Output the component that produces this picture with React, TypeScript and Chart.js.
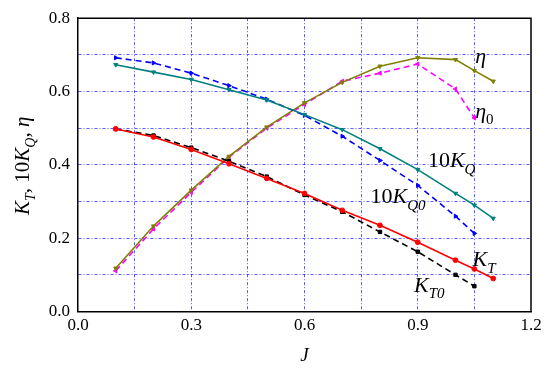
import React, { useEffect, useRef } from "react";
import { Chart, registerables } from "chart.js";

Chart.register(...registerables);

const J_SOLID = [0.1, 0.2, 0.3, 0.4, 0.5, 0.6, 0.7, 0.8, 0.9, 1.0, 1.05, 1.1];
const J_DASHED = [0.1, 0.2, 0.3, 0.4, 0.5, 0.6, 0.7, 0.8, 0.9, 1.0, 1.05];

const KT = [0.498, 0.476, 0.442, 0.403, 0.363, 0.322, 0.276, 0.235, 0.189, 0.14, 0.116, 0.09];
const KT0 = [0.498, 0.48, 0.447, 0.41, 0.368, 0.318, 0.272, 0.217, 0.163, 0.1, 0.069];
const KQ10 = [0.673, 0.653, 0.633, 0.605, 0.577, 0.537, 0.496, 0.444, 0.387, 0.322, 0.29, 0.254];
const KQ010 = [0.692, 0.678, 0.65, 0.616, 0.579, 0.535, 0.478, 0.412, 0.344, 0.26, 0.213];
const ETA = [0.118, 0.233, 0.331, 0.423, 0.503, 0.569, 0.625, 0.669, 0.692, 0.687, 0.657, 0.628];
const ETA0 = [0.111, 0.225, 0.325, 0.421, 0.5, 0.565, 0.628, 0.65, 0.675, 0.607, 0.528];

const X_MAJOR = [0.0, 0.3, 0.6, 0.9, 1.2];
const Y_MAJOR = [0.0, 0.2, 0.4, 0.6, 0.8];

const SERIF = "Liberation Serif";
Chart.defaults.font.family = SERIF;

type Part = { t: string; sub?: boolean; italic?: boolean };

const CURVE_LABELS: { x: number; y: number; parts: Part[] }[] = [
  { x: 1.052, y: 0.679, parts: [{ t: "η", italic: true }] },
  { x: 1.052, y: 0.529, parts: [{ t: "η", italic: true }, { t: "0", sub: true }] },
  { x: 0.927, y: 0.394, parts: [{ t: "10" }, { t: "K", italic: true }, { t: "Q", sub: true, italic: true }] },
  { x: 0.775, y: 0.296, parts: [{ t: "10" }, { t: "K", italic: true }, { t: "Q0", sub: true, italic: true }] },
  { x: 1.045, y: 0.124, parts: [{ t: "K", italic: true }, { t: "T", sub: true, italic: true }] },
  { x: 0.89, y: 0.054, parts: [{ t: "K", italic: true }, { t: "T0", sub: true, italic: true }] },
];

const Y_TITLE: Part[] = [
  { t: "K", italic: true },
  { t: "T", sub: true, italic: true },
  { t: ", 10" },
  { t: "K", italic: true },
  { t: "Q", sub: true, italic: true },
  { t: ", " },
  { t: "η", italic: true },
];

function fontFor(p: Part, size: number) {
  const s = p.sub ? Math.round(size * 0.68) : size;
  return `${p.italic ? "italic " : ""}${s}px "${SERIF}"`;
}

function partsWidth(ctx: CanvasRenderingContext2D, parts: Part[], size: number) {
  let w = 0;
  for (const p of parts) {
    ctx.font = fontFor(p, size);
    w += ctx.measureText(p.t).width;
  }
  return w;
}

function drawParts(ctx: CanvasRenderingContext2D, parts: Part[], x: number, y: number, size: number) {
  let cx = x;
  ctx.textBaseline = "alphabetic";
  ctx.textAlign = "left";
  for (const p of parts) {
    ctx.font = fontFor(p, size);
    ctx.fillText(p.t, cx, p.sub ? y + size * 0.3 : y);
    cx += ctx.measureText(p.t).width;
  }
}

const near = (v: number, list: number[]) => list.some((m) => Math.abs(m - v) < 1e-6);

const decorPlugin = {
  id: "decor",
  afterDraw(chart: any) {
    const ctx: CanvasRenderingContext2D = chart.ctx;
    const { left, right, top, bottom } = chart.chartArea;
    const xs = chart.scales.x;
    const ys = chart.scales.y;
    ctx.save();
    ctx.strokeStyle = "#000";
    ctx.lineWidth = 1.5;
    ctx.beginPath();
    ctx.moveTo(left, top);
    ctx.lineTo(right, top);
    ctx.lineTo(right, bottom);
    ctx.stroke();

    ctx.fillStyle = "#000";
    for (const l of CURVE_LABELS) {
      drawParts(ctx, l.parts, xs.getPixelForValue(l.x), ys.getPixelForValue(l.y), 22);
    }
    ctx.font = `italic 19px "${SERIF}"`;
    ctx.textAlign = "center";
    ctx.textBaseline = "alphabetic";
    ctx.fillText("J", (left + right) / 2, 361);

    const size = 21;
    const w = partsWidth(ctx, Y_TITLE, size);
    ctx.translate(29, (top + bottom) / 2 + 1);
    ctx.rotate(-Math.PI / 2);
    drawParts(ctx, Y_TITLE, -w / 2, 0, size);
    ctx.restore();
  },
};

function mkSet(label: string, xs: number[], ys: number[], color: string, dashed: boolean, style: any, rot: number) {
  return {
    label,
    data: xs.map((x, i) => ({ x, y: ys[i] })),
    borderColor: color,
    backgroundColor: color,
    borderWidth: 1.6,
    borderDash: dashed ? [6, 4] : [],
    pointStyle: style,
    pointRotation: rot,
    pointRadius: 2.4,
    pointBorderWidth: 1,
    showLine: true,
    tension: 0,
  };
}

export default function App() {
  const ref = useRef<HTMLCanvasElement | null>(null);
  useEffect(() => {
    document.body.style.margin = "0";
    const gridColor = (c: any) => {
      const v = c.tick ? c.tick.value : 0;
      const sc = c.scale;
      if (Math.abs(v - sc.min) < 1e-6 || Math.abs(v - sc.max) < 1e-6) return "rgba(0,0,0,0)";
      return "rgba(50,50,255,0.8)";
    };
    const tickFont = { family: SERIF, size: 17 };
    const chart = new Chart(ref.current as HTMLCanvasElement, {
      type: "scatter",
      data: {
        datasets: [
          mkSet("KT", J_SOLID, KT, "#ff0000", false, "circle", 0),
          mkSet("KT0", J_DASHED, KT0, "#000000", true, "rect", 0),
          mkSet("10KQ", J_SOLID, KQ10, "#008080", false, "triangle", 180),
          mkSet("10KQ0", J_DASHED, KQ010, "#0000ff", true, "triangle", 90),
          mkSet("eta", J_SOLID, ETA, "#808000", false, "triangle", 180),
          mkSet("eta0", J_DASHED, ETA0, "#ff00ff", true, "triangle", -90),
        ] as any,
      },
      options: {
        animation: false,
        responsive: false,
        maintainAspectRatio: false,
        layout: { padding: { left: 0, right: 19, top: 17, bottom: 0 } },
        plugins: { legend: { display: false }, tooltip: { enabled: false } },
        scales: {
          x: {
            type: "linear",
            min: 0,
            max: 1.2,
            afterFit: (s: any) => {
              s.height = 57.5;
            },
            ticks: {
              stepSize: 0.15,
              autoSkip: false,
              maxRotation: 0,
              padding: 4,
              color: "#000",
              font: tickFont,
              callback: (v: any) => (near(Number(v), X_MAJOR) ? Number(v).toFixed(1) : ""),
            },
            grid: { color: gridColor, lineWidth: 1, drawTicks: false },
            border: { display: true, color: "#000", width: 1.5, dash: [3, 2, 1, 2] },
          },
          y: {
            type: "linear",
            min: 0,
            max: 0.8,
            afterFit: (s: any) => {
              s.width = 78;
            },
            ticks: {
              stepSize: 0.1,
              autoSkip: false,
              padding: 8,
              color: "#000",
              font: tickFont,
              callback: (v: any) => (near(Number(v), Y_MAJOR) ? Number(v).toFixed(1) : ""),
            },
            grid: { color: gridColor, lineWidth: 1, drawTicks: false },
            border: { display: true, color: "#000", width: 1.5, dash: [3, 2, 1, 2] },
          },
        },
      } as any,
      plugins: [decorPlugin],
    });
    return () => chart.destroy();
  }, []);
  return (
    <div style={{ position: "fixed", left: 0, top: 0, width: 550, height: 369, background: "#fff" }}>
      <canvas ref={ref} width={550} height={369} style={{ width: 550, height: 369 }} />
    </div>
  );
}
